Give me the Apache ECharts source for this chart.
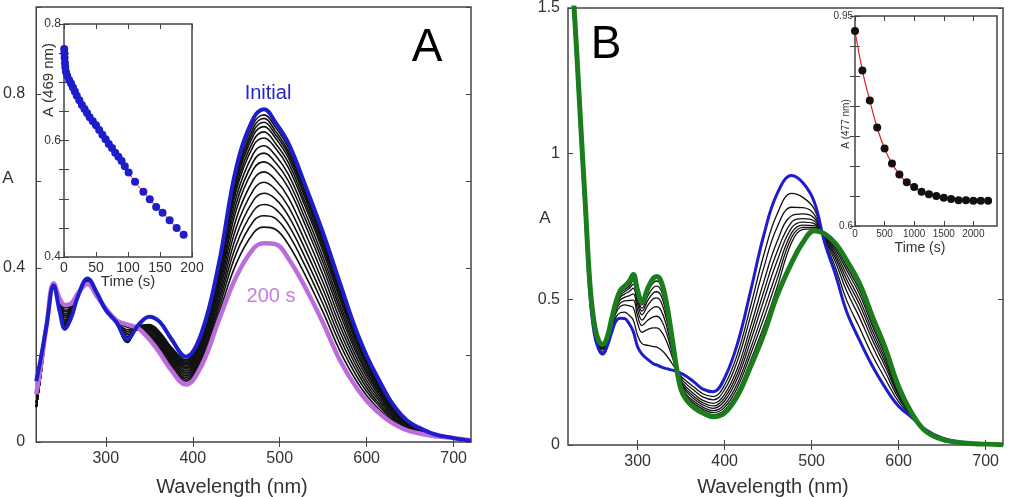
<!DOCTYPE html>
<html>
<head>
<meta charset="utf-8">
<script src="https://cdn.jsdelivr.net/npm/echarts@6/dist/echarts.min.js"></script>
<style>
  html, body { margin: 0; padding: 0; background: #fff; }
  #chart { width: 1013px; height: 497px; }
</style>
</head>
<body>
<div id="chart"></div>
<script>
// ---- panel A : spectra during the reaction (0 -> 200 s) ----
const wavelengthsA = [220,225,232,240,247,253,260,268,279,290,300,312,325,337,350,362,375,392,410,430,450,470,482,495,510,530,550,570,590,610,640,670,700,720];
const initialA = [0.14,0.19,0.27,0.36,0.30,0.26,0.285,0.335,0.376,0.342,0.303,0.276,0.236,0.268,0.288,0.276,0.238,0.196,0.25,0.41,0.63,0.745,0.765,0.735,0.687,0.587,0.48,0.361,0.246,0.158,0.062,0.024,0.009,0.003];
const final200sA = [0.11,0.17,0.27,0.365,0.33,0.315,0.318,0.342,0.363,0.334,0.307,0.280,0.270,0.262,0.236,0.205,0.166,0.132,0.175,0.28,0.38,0.445,0.457,0.455,0.422,0.353,0.273,0.185,0.12,0.074,0.032,0.016,0.009,0.004];
// one row per wavelength, one column per intermediate scan
const scansA = [
  [0.09,0.09,0.09,0.09,0.08,0.08,0.08,0.08,0.08,0.08,0.08,0.08,0.08,0.09,0.09],
  [0.15,0.15,0.15,0.15,0.15,0.15,0.15,0.15,0.15,0.15,0.15,0.15,0.15,0.15,0.15],
  [0.26,0.26,0.26,0.26,0.26,0.26,0.26,0.26,0.26,0.26,0.26,0.26,0.26,0.26,0.26],
  [0.355,0.355,0.355,0.355,0.355,0.355,0.355,0.355,0.355,0.355,0.355,0.355,0.355,0.355,0.355],
  [0.301,0.302,0.303,0.304,0.305,0.306,0.308,0.310,0.312,0.314,0.317,0.319,0.321,0.324,0.327],
  [0.262,0.264,0.266,0.267,0.269,0.272,0.275,0.278,0.281,0.286,0.290,0.294,0.299,0.303,0.308],
  [0.286,0.287,0.288,0.289,0.291,0.292,0.294,0.296,0.298,0.301,0.303,0.306,0.308,0.311,0.314],
  [0.336,0.336,0.336,0.336,0.336,0.336,0.337,0.337,0.338,0.338,0.339,0.339,0.340,0.340,0.341],
  [0.372,0.371,0.371,0.370,0.370,0.369,0.368,0.368,0.367,0.367,0.366,0.366,0.365,0.365,0.364],
  [0.341,0.341,0.341,0.341,0.341,0.340,0.340,0.339,0.339,0.338,0.338,0.337,0.336,0.336,0.335],
  [0.303,0.303,0.303,0.303,0.304,0.304,0.304,0.304,0.305,0.305,0.305,0.306,0.306,0.306,0.307],
  [0.274,0.274,0.274,0.274,0.274,0.274,0.274,0.275,0.275,0.275,0.276,0.276,0.277,0.278,0.279],
  [0.233,0.231,0.230,0.229,0.229,0.230,0.232,0.235,0.238,0.242,0.246,0.250,0.254,0.258,0.263],
  [0.266,0.265,0.264,0.263,0.262,0.261,0.260,0.259,0.259,0.258,0.258,0.258,0.259,0.259,0.260],
  [0.270,0.268,0.266,0.264,0.262,0.260,0.258,0.256,0.253,0.250,0.247,0.244,0.241,0.239,0.237],
  [0.253,0.250,0.247,0.244,0.241,0.238,0.235,0.232,0.229,0.226,0.223,0.220,0.217,0.214,0.211],
  [0.219,0.216,0.213,0.210,0.207,0.204,0.201,0.198,0.195,0.192,0.189,0.185,0.181,0.177,0.173],
  [0.189,0.186,0.183,0.180,0.177,0.174,0.171,0.168,0.164,0.160,0.156,0.152,0.148,0.144,0.140],
  [0.247,0.245,0.243,0.240,0.237,0.234,0.230,0.225,0.221,0.215,0.209,0.203,0.197,0.191,0.184],
  [0.405,0.401,0.397,0.393,0.388,0.383,0.375,0.367,0.359,0.349,0.339,0.328,0.318,0.307,0.296],
  [0.620,0.613,0.605,0.598,0.588,0.578,0.563,0.548,0.533,0.513,0.493,0.473,0.453,0.433,0.410],
  [0.733,0.724,0.715,0.706,0.694,0.682,0.664,0.646,0.628,0.604,0.580,0.556,0.532,0.508,0.481],
  [0.752,0.744,0.735,0.725,0.713,0.699,0.681,0.664,0.644,0.621,0.597,0.572,0.546,0.520,0.494],
  [0.724,0.715,0.707,0.699,0.687,0.676,0.659,0.643,0.626,0.603,0.581,0.559,0.536,0.514,0.489],
  [0.676,0.668,0.661,0.653,0.642,0.631,0.615,0.600,0.584,0.562,0.541,0.520,0.499,0.478,0.454],
  [0.578,0.571,0.564,0.557,0.547,0.538,0.524,0.510,0.496,0.477,0.458,0.440,0.421,0.402,0.381],
  [0.472,0.466,0.459,0.453,0.445,0.437,0.424,0.412,0.399,0.383,0.366,0.350,0.333,0.316,0.298],
  [0.354,0.349,0.343,0.338,0.331,0.324,0.313,0.303,0.292,0.278,0.264,0.250,0.236,0.222,0.206],
  [0.241,0.237,0.233,0.230,0.225,0.220,0.212,0.204,0.197,0.187,0.177,0.167,0.157,0.146,0.135],
  [0.155,0.152,0.150,0.147,0.144,0.140,0.135,0.130,0.125,0.119,0.112,0.105,0.098,0.092,0.084],
  [0.061,0.060,0.059,0.058,0.057,0.056,0.054,0.052,0.050,0.048,0.046,0.043,0.041,0.038,0.036],
  [0.024,0.023,0.023,0.023,0.023,0.022,0.022,0.021,0.021,0.020,0.020,0.019,0.018,0.018,0.017],
  [0.009,0.009,0.009,0.009,0.009,0.009,0.009,0.009,0.009,0.009,0.009,0.009,0.009,0.009,0.009],
  [0.004,0.004,0.004,0.004,0.004,0.004,0.004,0.004,0.004,0.004,0.004,0.004,0.004,0.004,0.004]
];
// inset A : absorbance at 469 nm
const timeA = [0.3,0.6,1,1.5,2,3,5,8,11,14,17,20,24,28,32,36,40,45,50,55,60,65,70,75,80,85,90,95,101,111,124,134,144,154,165,176,187];
const abs469 = [0.757,0.750,0.742,0.733,0.726,0.718,0.711,0.704,0.698,0.691,0.684,0.677,0.669,0.661,0.654,0.647,0.640,0.633,0.626,0.618,0.610,0.602,0.594,0.587,0.579,0.572,0.565,0.556,0.545,0.529,0.512,0.499,0.486,0.476,0.463,0.450,0.438];

// ---- panel B ----
const wavelengthsB = [220,226,230,235,240,245,250,255,260,265,270,275,280,285,290,295,300,305,312,318,322,327,333,340,345,350,356,365,375,387,400,415,430,445,460,477,490,503,515,528,540,555,570,585,600,615,630,650,675,700,720];
const initialB = [1.85,1.53,1.32,1.05,0.79,0.52,0.385,0.33,0.312,0.338,0.384,0.425,0.435,0.434,0.418,0.39,0.337,0.312,0.293,0.279,0.275,0.268,0.262,0.257,0.252,0.246,0.236,0.216,0.192,0.183,0.23,0.35,0.53,0.72,0.86,0.925,0.90,0.835,0.695,0.58,0.46,0.36,0.27,0.195,0.133,0.095,0.055,0.024,0.008,0.003,0.001];
const finalB = [1.85,1.55,1.35,1.08,0.82,0.56,0.42,0.36,0.345,0.37,0.43,0.49,0.53,0.545,0.56,0.585,0.53,0.49,0.54,0.572,0.578,0.562,0.49,0.36,0.26,0.19,0.155,0.128,0.11,0.097,0.11,0.17,0.27,0.38,0.51,0.625,0.695,0.735,0.725,0.69,0.635,0.555,0.44,0.33,0.20,0.11,0.05,0.019,0.007,0.003,0.001];
const scansB = [
  [1.85,1.85,1.85,1.85,1.85,1.85,1.85,1.85],
  [1.54,1.54,1.54,1.54,1.54,1.54,1.54,1.54],
  [1.33,1.33,1.33,1.33,1.33,1.33,1.33,1.33],
  [1.065,1.065,1.065,1.065,1.065,1.065,1.065,1.065],
  [0.80,0.80,0.80,0.80,0.80,0.80,0.80,0.80],
  [0.528,0.537,0.542,0.546,0.550,0.553,0.556,0.558],
  [0.392,0.400,0.404,0.408,0.412,0.414,0.416,0.418],
  [0.336,0.343,0.347,0.350,0.353,0.355,0.357,0.359],
  [0.319,0.326,0.330,0.334,0.337,0.339,0.341,0.343],
  [0.344,0.351,0.356,0.359,0.362,0.365,0.366,0.368],
  [0.393,0.403,0.409,0.414,0.419,0.422,0.425,0.428],
  [0.438,0.452,0.461,0.468,0.474,0.479,0.483,0.487],
  [0.454,0.475,0.487,0.498,0.507,0.514,0.520,0.525],
  [0.456,0.481,0.495,0.507,0.518,0.526,0.533,0.539],
  [0.446,0.478,0.496,0.512,0.526,0.536,0.544,0.553],
  [0.429,0.472,0.497,0.519,0.538,0.552,0.564,0.575],
  [0.376,0.418,0.443,0.464,0.484,0.497,0.509,0.520],
  [0.348,0.387,0.410,0.429,0.447,0.460,0.470,0.481],
  [0.342,0.397,0.429,0.456,0.481,0.498,0.513,0.528],
  [0.338,0.402,0.440,0.472,0.502,0.522,0.540,0.557],
  [0.336,0.402,0.442,0.475,0.505,0.526,0.545,0.563],
  [0.327,0.391,0.430,0.462,0.491,0.512,0.530,0.547],
  [0.308,0.358,0.387,0.412,0.435,0.451,0.465,0.479],
  [0.278,0.300,0.314,0.325,0.335,0.343,0.349,0.355],
  [0.254,0.255,0.256,0.257,0.258,0.259,0.259,0.260],
  [0.235,0.228,0.220,0.214,0.209,0.203,0.199,0.194],
  [0.220,0.209,0.198,0.190,0.183,0.174,0.168,0.161],
  [0.198,0.187,0.175,0.166,0.158,0.149,0.142,0.135],
  [0.176,0.165,0.153,0.145,0.138,0.130,0.123,0.117],
  [0.166,0.155,0.143,0.134,0.126,0.118,0.111,0.104],
  [0.206,0.190,0.174,0.162,0.151,0.139,0.129,0.120],
  [0.314,0.291,0.265,0.247,0.231,0.213,0.199,0.184],
  [0.478,0.444,0.408,0.382,0.358,0.332,0.312,0.291],
  [0.652,0.608,0.560,0.526,0.496,0.462,0.434,0.407],
  [0.790,0.745,0.696,0.661,0.629,0.594,0.566,0.538],
  [0.864,0.816,0.787,0.765,0.745,0.728,0.712,0.695],
  [0.850,0.815,0.793,0.777,0.765,0.755,0.747,0.740],
  [0.810,0.792,0.779,0.769,0.760,0.753,0.747,0.742],
  [0.702,0.707,0.711,0.714,0.717,0.719,0.721,0.723],
  [0.604,0.624,0.638,0.649,0.659,0.669,0.677,0.683],
  [0.499,0.530,0.553,0.570,0.586,0.602,0.614,0.625],
  [0.403,0.438,0.463,0.483,0.500,0.518,0.532,0.543],
  [0.307,0.338,0.360,0.377,0.392,0.408,0.420,0.430],
  [0.225,0.249,0.267,0.280,0.292,0.304,0.314,0.322],
  [0.148,0.160,0.169,0.175,0.181,0.187,0.192,0.196],
  [0.098,0.101,0.103,0.104,0.106,0.107,0.108,0.109],
  [0.054,0.053,0.052,0.052,0.051,0.051,0.050,0.050],
  [0.023,0.022,0.021,0.020,0.020,0.019,0.019,0.019],
  [0.008,0.008,0.007,0.007,0.007,0.007,0.007,0.007],
  [0.003,0.003,0.003,0.003,0.003,0.003,0.003,0.003],
  [0.001,0.001,0.001,0.001,0.001,0.001,0.001,0.001]
];
// inset B : absorbance at 477 nm
const timeB = [0,125,250,375,500,625,750,875,1000,1125,1250,1375,1500,1625,1750,1875,2000,2125,2250];
const abs477 = [0.925,0.859,0.809,0.764,0.729,0.704,0.686,0.673,0.665,0.657,0.653,0.650,0.647,0.645,0.643,0.643,0.642,0.642,0.642];

// ticks and labels
const waveTicks = [300,400,500,600,700];
const absTicksA = [0,0.2,0.4,0.6,0.8,1.0];
const absLabelsA = [0,0.4,0.8];
const absTicksB = [0,0.5,1,1.5];
const timeTicksA = [0,50,100,150,200];
const insetTicksA = [0.4,0.45,0.5,0.55,0.6,0.65,0.7,0.75,0.8];
const insetLabelsA = [0.4,0.6,0.8];
const timeTicksB = [0,500,1000,1500,2000];
const insetTicksB = [0.6,0.65,0.7,0.75,0.8,0.85,0.9,0.95];
const insetLabelsB = [0.6,0.95];

const FONT = '"Liberation Sans", Arial, Helvetica, sans-serif';
const BLUE = '#1d1dca', MAGENTA = '#bd6ddb', GREEN = '#1b7d1b';

let chart = echarts.init(document.getElementById('chart'));

function axis(grid, pos, min, max, ticks, labels, size, margin) {
  return {
    type: 'value', gridIndex: grid, position: pos, min: min, max: max,
    axisLine: {show: false},
    splitLine: {show: false},
    axisTick: {show: true, inside: true, length: 5, customValues: ticks, lineStyle: {color: '#444', width: 1}},
    axisLabel: labels ? {
      show: true, customValues: labels, color: '#333', fontFamily: FONT, fontSize: size, margin: margin,
      formatter: v => String(+(+v).toFixed(2))
    } : {show: false}
  };
}
function pairs(xs, ys) { return xs.map((x, i) => [x, ys[i]]); }
function column(rows, k) { return rows.map(r => r[k]); }

let frame = {show: true, borderColor: '#444', borderWidth: 1.5};
let grids = [
  Object.assign({left: 36, top: 7, width: 435, height: 435, backgroundColor: 'transparent'}, frame),
  Object.assign({left: 64, top: 24, width: 128, height: 233, backgroundColor: '#fff'}, frame),
  Object.assign({left: 568, top: 8, width: 435, height: 437, backgroundColor: 'transparent'}, frame),
  Object.assign({left: 855, top: 16, width: 142, height: 210, backgroundColor: '#fff'}, frame)
];

let xAxes = [
  axis(0, 'bottom', 220, 720, waveTicks, waveTicks, 16, 9),
  axis(0, 'top', 220, 720, waveTicks, null),
  axis(1, 'bottom', 0, 200, timeTicksA, timeTicksA, 14, 4),
  axis(1, 'top', 0, 200, timeTicksA, null),
  axis(2, 'bottom', 220, 720, waveTicks, waveTicks, 16, 9),
  axis(2, 'top', 220, 720, waveTicks, null),
  axis(3, 'bottom', 0, 2400, timeTicksB, timeTicksB, 10, 3),
  axis(3, 'top', 0, 2400, timeTicksB, null)
];
let yAxes = [
  axis(0, 'left', 0, 1, absTicksA, absLabelsA, 16, 11),
  axis(0, 'right', 0, 1, absTicksA, null),
  axis(1, 'left', 0.4, 0.8, insetTicksA, insetLabelsA, 12, 3),
  axis(1, 'right', 0.4, 0.8, insetTicksA, null),
  axis(2, 'left', 0, 1.5, absTicksB, absTicksB, 16, 8),
  axis(2, 'right', 0, 1.5, absTicksB, null),
  axis(3, 'left', 0.6, 0.95, insetTicksB, insetLabelsB, 10, 2),
  axis(3, 'right', 0.6, 0.95, insetTicksB, null)
];

let series = [];
function spectrum(ax, xs, ys, color, width, z) {
  series.push({
    type: 'line', xAxisIndex: ax, yAxisIndex: ax, data: pairs(xs, ys),
    showSymbol: false, smooth: 0.4, silent: true, z: z,
    lineStyle: {color: color, width: width}
  });
}
// panel A
for (let k = 0; k < scansA[0].length; k++) spectrum(0, wavelengthsA, column(scansA, k), '#111', 1.6, 3);
spectrum(0, wavelengthsA, final200sA, MAGENTA, 4.5, 4);
spectrum(0, wavelengthsA, initialA, BLUE, 4, 4);
// inset A
series.push({type: 'line', xAxisIndex: 2, yAxisIndex: 2, data: pairs(timeA, abs469), showSymbol: false,
  smooth: true, lineStyle: {color: '#e02020', width: 1}, z: 5});
series.push({type: 'scatter', xAxisIndex: 2, yAxisIndex: 2, data: pairs(timeA, abs469), symbolSize: 8,
  itemStyle: {color: BLUE, opacity: 1}, z: 6});
// panel B
for (let k = 0; k < scansB[0].length; k++) spectrum(4, wavelengthsB, column(scansB, k), '#111', 1.3, 3);
spectrum(4, wavelengthsB, initialB, BLUE, 3, 4);
spectrum(4, wavelengthsB, finalB, GREEN, 5, 4);
// inset B
series.push({type: 'line', xAxisIndex: 6, yAxisIndex: 6, data: pairs(timeB, abs477), showSymbol: false,
  smooth: true, lineStyle: {color: '#e02020', width: 1.2}, z: 5});
series.push({type: 'scatter', xAxisIndex: 6, yAxisIndex: 6, data: pairs(timeB, abs477), symbolSize: 8,
  itemStyle: {color: '#111', opacity: 1}, z: 6});

function label(text, x, y, size, color, rot) {
  return {type: 'text', x: x, y: y, rotation: rot || 0, z: 20,
    style: {text: text, fill: color || '#333', font: size + 'px ' + FONT, align: 'center', verticalAlign: 'middle'}};
}

chart.setOption({
  animation: false,
  grid: grids,
  xAxis: xAxes,
  yAxis: yAxes,
  series: series,
  graphic: [
    label('Wavelength (nm)', 232, 487, 20),
    label('Wavelength (nm)', 773, 487, 20),
    label('A', 8, 178, 17),
    label('A', 545, 218, 17),
    label('A', 427, 48, 46, '#000'),
    label('B', 606, 45, 46, '#000'),
    label('Initial', 268, 93, 20, '#2525d0'),
    label('200 s', 271, 296, 20, '#c47fdc'),
    label('Time (s)', 128, 282, 15),
    label('A (469 nm)', 49, 80, 15, '#333', Math.PI / 2),
    label('Time (s)', 920, 248, 14),
    label('A (477 nm)', 846, 124, 10, '#333', Math.PI / 2)
  ]
});
</script>
</body>
</html>
